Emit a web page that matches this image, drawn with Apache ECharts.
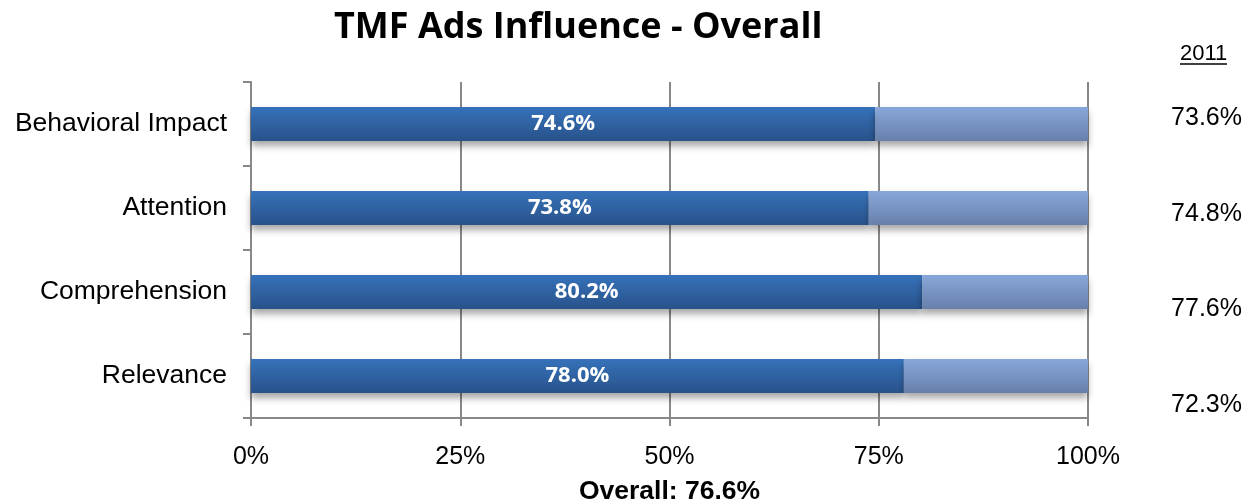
<!DOCTYPE html>
<html><head><meta charset="utf-8">
<script src="https://cdn.jsdelivr.net/npm/echarts@6/dist/echarts.min.js"></script>
<style>html,body{margin:0;padding:0;background:#fff}#c{width:1247px;height:500px}</style>
</head><body><div id="c"></div>
<script>
const categories = ['Behavioral Impact', 'Attention', 'Comprehension', 'Relevance'];
const values2012 = [74.6, 73.8, 80.2, 78.0];
const values2011 = [73.6, 74.8, 77.6, 72.3];
const xTicks = [0, 25, 50, 75, 100];
const overallLabel = 'Overall: 76.6%';
const titleText = 'TMF Ads Influence - Overall';
const yearLabel = '2011';

const remainder = values2012.map(v => +(100 - v).toFixed(1));
const chart = echarts.init(document.getElementById('c'), null, {renderer: 'canvas'});
const grad = (a, b) => new echarts.graphic.LinearGradient(0, 0, 0, 1, [{offset: 0, color: a}, {offset: 1, color: b}]);

chart.setOption({
  animation: false,
  backgroundColor: '#fff',
  title: {
    text: titleText, left: 329, top: 5,
    textStyle: {fontFamily: 'Open Sans', fontWeight: 'bold', fontSize: 36, color: '#000'}
  },
  grid: [
    {left: 251, right: 159, top: 82, bottom: 82, containLabel: false, outerBoundsMode: 'none'},
    {left: 1242, width: 1, top: 70, height: 383, containLabel: false, outerBoundsMode: 'none'}
  ],
  xAxis: [{
    gridIndex: 0, type: 'value', min: xTicks[0], max: xTicks[xTicks.length - 1], interval: 25,
    axisLine: {show: true, lineStyle: {color: '#888', width: 2}},
    axisTick: {show: true, length: 8, lineStyle: {color: '#888', width: 2}},
    splitLine: {show: true, lineStyle: {color: '#888', width: 2}},
    axisLabel: {formatter: v => v + '%', fontFamily: 'Liberation Sans', fontSize: 25, color: '#000', margin: 27},
    name: overallLabel, nameLocation: 'middle', nameGap: 60,
    nameTextStyle: {fontFamily: 'Liberation Sans', fontWeight: 'bold', fontSize: 26.5, color: '#000'}
  }, {
    gridIndex: 1, type: 'value', show: false
  }],
  yAxis: [{
    gridIndex: 0, type: 'category', data: categories, inverse: true,
    axisLine: {show: true, lineStyle: {color: '#888', width: 2}},
    axisTick: {show: true, length: 8, lineStyle: {color: '#888', width: 2}},
    axisLabel: {fontFamily: 'Liberation Sans', fontSize: 26.5, color: '#000', margin: 24}
  }, {
    gridIndex: 1, type: 'category', inverse: true,
    data: values2011.map(v => v.toFixed(1) + '%'),
    axisLine: {show: false}, axisTick: {show: false},
    axisLabel: {fontFamily: 'Liberation Sans', fontSize: 25, color: '#000', margin: 0}
  }],
  graphic: [
    {type: 'text', left: 1180, top: 43, style: {text: yearLabel, font: '22px "Liberation Sans"', fill: '#000'}},
    {type: 'line', shape: {x1: 1180, y1: 64, x2: 1227, y2: 64}, style: {stroke: '#000', lineWidth: 1.5}}
  ],
  series: [{
    type: 'bar', stack: 's', xAxisIndex: 0, yAxisIndex: 0, barWidth: 34,
    data: values2012,
    itemStyle: {color: grad('#3672ba', '#28528a'), shadowColor: 'rgba(0,0,0,0.35)', shadowBlur: 7, shadowOffsetY: 5},
    label: {show: true, position: 'inside', formatter: p => p.value.toFixed(1) + '%',
      fontFamily: 'Open Sans', fontWeight: 'bold', fontSize: 22, color: '#fff'}
  }, {
    type: 'bar', stack: 's', xAxisIndex: 0, yAxisIndex: 0, barWidth: 34,
    data: remainder,
    itemStyle: {color: grad('#88a7d9', '#6780ab'), shadowColor: 'rgba(0,0,0,0.35)', shadowBlur: 7, shadowOffsetY: 5}
  }]
});
</script></body></html>
